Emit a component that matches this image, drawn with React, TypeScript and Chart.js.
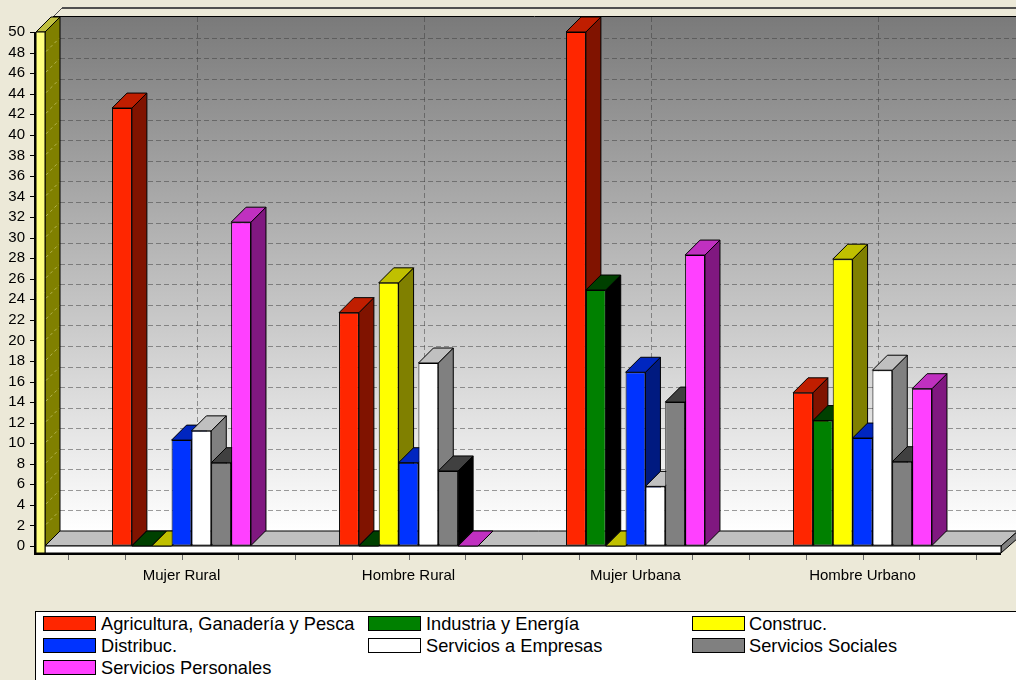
import React, { useEffect, useRef } from "react";
import { Chart, registerables } from "chart.js";

Chart.register(...registerables);

// ---------- data ----------
const categories = ["Mujer Rural", "Hombre Rural", "Mujer Urbana", "Hombre Urbano"];
const seriesNames = [
  "Agricultura, Ganadería y Pesca",
  "Industria y Energía",
  "Construc.",
  "Distribuc.",
  "Servicios a Empresas",
  "Servicios Sociales",
  "Servicios Personales",
];
const agricultura = [42.6, 22.7, 50.0, 14.9];
const industria = [0, 0, 24.9, 12.2];
const construc = [0, 25.6, 0, 27.9];
const distribuc = [10.3, 8.1, 16.9, 10.5];
const serviciosEmpresas = [11.2, 17.8, 5.8, 17.1];
const serviciosSociales = [8.1, 7.3, 14.0, 8.2];
const serviciosPersonales = [31.5, 0, 28.3, 15.3];
const seriesValues = [
  agricultura,
  industria,
  construc,
  distribuc,
  serviciosEmpresas,
  serviciosSociales,
  serviciosPersonales,
];
const yMin = 0;
const yMax = 50;
const yStep = 2;

// ---------- styles ----------
const frontColors = ["#FF2600", "#008000", "#FFFF00", "#0033FF", "#FFFFFF", "#808080", "#FF40FF"];
const topColors = ["#C01E00", "#004000", "#C0C000", "#0026C0", "#C0C0C0", "#404040", "#C030C0"];
const sideColors = ["#801300", "#000000", "#808000", "#001A80", "#808080", "#000000", "#801880"];
const FONT = "'Liberation Sans', Arial, sans-serif";
const DX = 15;
const DY = 15;

type Pt = [number, number];
function poly(ctx: CanvasRenderingContext2D, pts: Pt[], fill: string | null, stroke: string | null = "#000", lw = 1) {
  ctx.beginPath();
  ctx.moveTo(pts[0][0], pts[0][1]);
  for (let i = 1; i < pts.length; i++) ctx.lineTo(pts[i][0], pts[i][1]);
  ctx.closePath();
  if (fill) {
    ctx.fillStyle = fill;
    ctx.fill();
  }
  if (stroke) {
    ctx.strokeStyle = stroke;
    ctx.lineWidth = lw;
    ctx.stroke();
  }
}
function line(ctx: CanvasRenderingContext2D, x1: number, y1: number, x2: number, y2: number) {
  ctx.beginPath();
  ctx.moveTo(x1, y1);
  ctx.lineTo(x2, y2);
  ctx.stroke();
}

const decorPlugin = {
  id: "decor3d",
  beforeDraw(chart: any) {
    const { ctx, chartArea: ca, scales } = chart;
    const ys = scales.y;
    const xs = scales.x;
    const W = chart.width;
    const y0 = ys.getPixelForValue(yMin);
    const yT = ys.getPixelForValue(yMax);
    const wallFront = ca.left - 32;
    const wallIn = ca.left - 23;
    const wallBack = wallIn + DX;
    const floorRight = ca.right + 25;

    ctx.save();
    ctx.fillStyle = "#ECE9D8";
    ctx.fillRect(0, 0, W, chart.height);

    // top frame
    ctx.strokeStyle = "#505050";
    ctx.lineWidth = 2;
    line(ctx, wallBack + 2, yT - DY - 9, W, yT - DY - 9);
    ctx.lineWidth = 1;
    line(ctx, wallBack - 7, yT - DY, wallBack + 2, yT - DY - 9);

    // back wall
    const g = ctx.createLinearGradient(0, yT - DY, 0, y0 - DY);
    g.addColorStop(0, "#7a7a7a");
    g.addColorStop(1, "#ffffff");
    ctx.fillStyle = g;
    ctx.fillRect(wallBack, yT - DY, W - wallBack, y0 - yT);
    ctx.strokeStyle = "#000";
    ctx.lineWidth = 1;
    line(ctx, wallBack - 7, Math.round(yT - DY) - 0.5, W, Math.round(yT - DY) - 0.5);

    // grid on back wall
    ctx.setLineDash([5, 3]);
    ctx.strokeStyle = "rgba(60,60,60,0.5)";
    for (let v = yMin + yStep; v < yMax; v += yStep) {
      const yy = Math.round(ys.getPixelForValue(v) - DY) + 0.5;
      line(ctx, wallBack, yy, W, yy);
    }
    for (let i = 0; i < categories.length; i++) {
      const xx = Math.round(xs.getPixelForValue(i) + DX) + 0.5;
      line(ctx, xx, yT - DY, xx, y0 - DY);
    }
    ctx.setLineDash([]);

    // left wall side
    poly(ctx, [[wallIn, y0], [wallIn, yT], [wallBack, yT - DY], [wallBack, y0 - DY]], "#808000");
    ctx.setLineDash([3, 3]);
    ctx.strokeStyle = "rgba(210,210,130,0.6)";
    for (let v = yMin; v <= yMax; v += yStep) {
      const yy = ys.getPixelForValue(v);
      line(ctx, wallIn + 1, yy - 1, wallBack - 1, yy - DY + 1);
    }
    ctx.setLineDash([]);
    // left wall top
    poly(ctx, [[wallFront, yT], [wallIn, yT], [wallBack, yT - DY], [wallFront + DX, yT - DY]], "#C0C040");

    // floor
    poly(ctx, [[wallIn, y0], [wallBack, y0 - DY], [W + 2, y0 - DY], [floorRight, y0]], "#C0C0C0");
    poly(ctx, [[floorRight, y0], [W + 2, y0 - DY], [W + 2, y0 - DY + 7], [floorRight, y0 + 7]], "#808080");
    poly(ctx, [[wallIn, y0], [floorRight, y0], [floorRight, y0 + 7], [wallIn, y0 + 7]], "#FFFFFF");
    // left wall front
    poly(ctx, [[wallFront, yT], [wallIn, yT], [wallIn, y0 + 7], [wallFront, y0 + 7]], "#FFFF80");

    // axis lines
    ctx.strokeStyle = "#000";
    ctx.lineWidth = 2;
    line(ctx, wallFront - 1, yT, wallFront - 1, y0 + 9);
    line(ctx, wallFront - 2, y0 + 8, floorRight, y0 + 8);
    ctx.lineWidth = 1;
    for (let v = yMin; v <= yMax; v += yStep) {
      const yy = Math.round(ys.getPixelForValue(v)) + 0.5;
      line(ctx, wallFront - 6, yy, wallFront - 1, yy);
    }
    ctx.strokeStyle = "#666";
    const nMinor = categories.length * 4;
    for (let k = 0; k <= nMinor; k++) {
      const xx = Math.round(ca.left + (k * ca.width) / nMinor) + 0.5;
      line(ctx, xx, y0 + 9, xx, y0 + 14);
    }
    ctx.restore();
  },
  beforeDatasetsDraw(chart: any) {
    const ctx = chart.ctx;
    ctx.save();
    ctx.lineJoin = "miter";
    const n = chart.data.labels.length;
    for (let j = 0; j < n; j++) {
      for (let i = 0; i < chart.data.datasets.length; i++) {
        const el = chart.getDatasetMeta(i).data[j];
        if (!el) continue;
        const { x, y, base, width } = el.getProps(["x", "y", "base", "width"], true);
        const l = x - width / 2;
        const r = x + width / 2;
        poly(ctx, [[r, y], [r + DX, y - DY], [r + DX, base - DY], [r, base]], sideColors[i]);
        poly(ctx, [[l, y], [r, y], [r + DX, y - DY], [l + DX, y - DY]], topColors[i]);
      }
    }
    ctx.restore();
  },
};

const swatchX = [43, 368, 692];
const textX = [101, 426, 749];
const rowTop = [616, 638, 660];

export default function App() {
  const ref = useRef<HTMLCanvasElement | null>(null);
  useEffect(() => {
    if (!ref.current) return;
    const chart = new Chart(ref.current, {
      type: "bar",
      data: {
        labels: categories,
        datasets: seriesNames.map((name, i) => ({
          label: name,
          data: seriesValues[i],
          backgroundColor: frontColors[i],
          borderColor: "#000",
          borderWidth: 1,
          borderSkipped: false,
          categoryPercentage: 0.612,
          barPercentage: 1,
        })),
      },
      options: {
        responsive: false,
        animation: false,
        events: [],
        layout: { padding: { left: 8, right: 40, top: 32, bottom: 14 } },
        plugins: { legend: { display: false }, tooltip: { enabled: false } },
        scales: {
          x: {
            grid: { display: false, drawTicks: false },
            border: { display: false },
            ticks: { color: "#000", font: { family: FONT, size: 15 }, padding: 21, maxRotation: 0 },
            afterFit(s: any) {
              s.height = 40;
            },
          },
          y: {
            min: yMin,
            max: yMax,
            grid: {
              display: true,
              drawOnChartArea: false,
              drawTicks: true,
              tickLength: 43,
              color: "rgba(0,0,0,0)",
            },
            border: { display: false },
            ticks: {
              stepSize: yStep,
              autoSkip: false,
              color: "#000",
              font: { family: FONT, size: 15 },
              padding: 0,
            },
            afterFit(s: any) {
              s.width = 60;
            },
          },
        },
      } as any,
      plugins: [decorPlugin as any],
    });
    return () => chart.destroy();
  }, []);

  return (
    <div
      style={{
        position: "fixed",
        left: 0,
        top: 0,
        width: 1016,
        height: 680,
        background: "#ECE9D8",
        overflow: "hidden",
        fontFamily: FONT,
      }}
    >
      <canvas ref={ref} width={1016} height={600} style={{ display: "block", position: "absolute", left: 0, top: 0 }} />
      <div
        style={{
          position: "absolute",
          left: 35,
          top: 611,
          width: 1000,
          height: 100,
          background: "#fff",
          border: "1px solid #000",
          boxSizing: "border-box",
        }}
      />
      {seriesNames.map((name, i) => {
        const c = i % 3;
        const r = Math.floor(i / 3);
        return (
          <React.Fragment key={name}>
            <div
              style={{
                position: "absolute",
                left: swatchX[c],
                top: rowTop[r],
                width: 53,
                height: 15,
                boxSizing: "border-box",
                background: frontColors[i],
                border: "1px solid #000",
              }}
            />
            <div
              style={{
                position: "absolute",
                left: textX[c],
                top: rowTop[r] - 2,
                fontSize: 19,
                lineHeight: "19px",
                color: "#000",
                whiteSpace: "nowrap",
                transform: "scaleX(0.96)",
                transformOrigin: "left top",
              }}
            >
              {name}
            </div>
          </React.Fragment>
        );
      })}
    </div>
  );
}
